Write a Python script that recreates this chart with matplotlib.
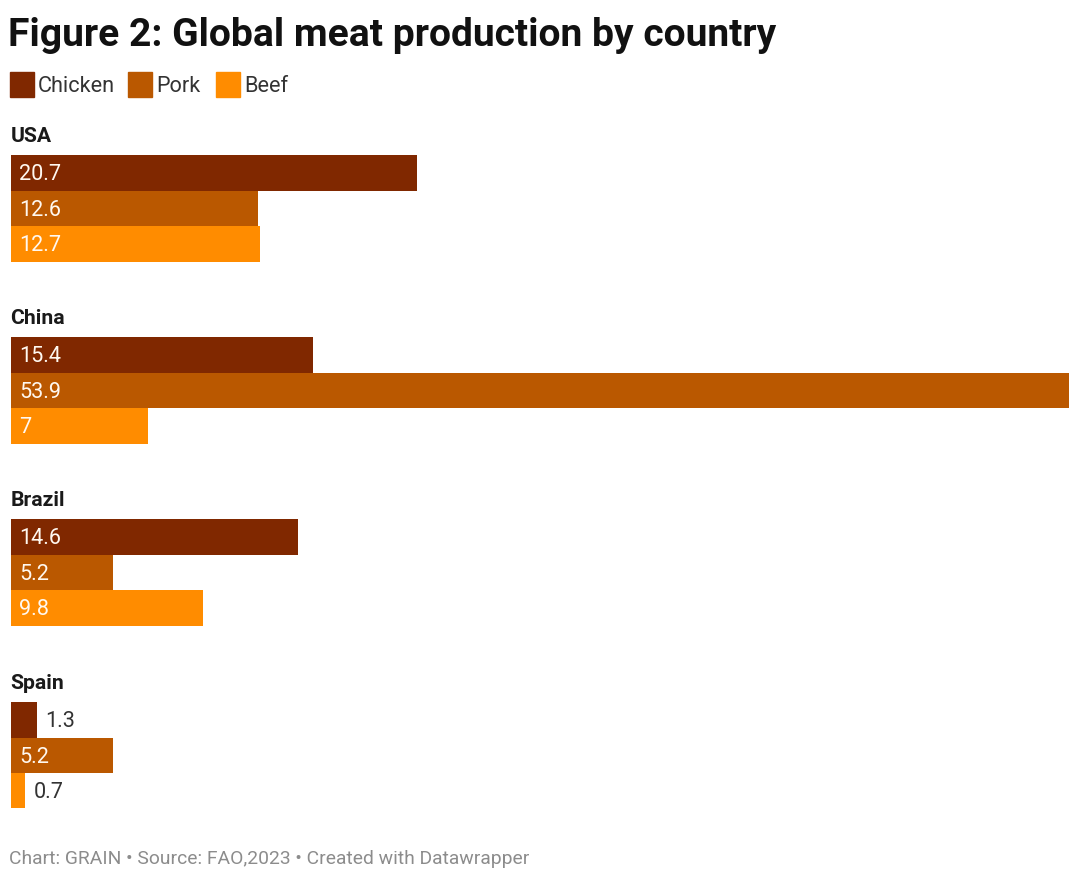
import matplotlib
matplotlib.use("Agg")
import matplotlib.pyplot as plt

countries = ["USA", "China", "Brazil", "Spain"]
series = ["Chicken", "Pork", "Beef"]
chicken = [20.7, 15.4, 14.6, 1.3]
pork = [12.6, 53.9, 5.2, 5.2]
beef = [12.7, 7.0, 9.8, 0.7]
labels = {"Chicken": ["20.7", "15.4", "14.6", "1.3"],
          "Pork": ["12.6", "53.9", "5.2", "5.2"],
          "Beef": ["12.7", "7", "9.8", "0.7"]}
colors = ["#802800", "#BA5800", "#FF8C00"]
title = "Figure 2: Global meat production by country"
footer = "Chart: GRAIN \u2022 Source: FAO,2023 \u2022 Created with Datawrapper"

plt.rcParams["font.family"] = ["Roboto", "DejaVu Sans"]

W, H = 1080, 878
fig = plt.figure(figsize=(W / 100, H / 100), dpi=100)
fig.patch.set_facecolor("white")

def fx(px):
    return px / W

def fy(py):
    return 1 - py / H

# Title
fig.text(fx(8.5), fy(46), title, fontsize=28.1, fontweight="bold", color="#111111",
         ha="left", va="baseline")

# Legend
leg_x = [10, 128, 216]
for i, name in enumerate(series):
    fig.patches.append(plt.Rectangle((fx(leg_x[i]), fy(98)), fx(24), 25 / H,
                                     transform=fig.transFigure, color=colors[i]))
    fig.text(fx(leg_x[i] + 28), fy(92), name, fontsize=15.6, color="#333333",
             ha="left", va="baseline")

ax = fig.add_axes([fx(11), 0, fx(1069 - 11), 1])
ax.set_xlim(0, 53.9)
ax.set_ylim(H, 0)
ax.axis("off")

values = [chicken, pork, beef]
group_top = [156, 338, 520, 703]
bar_h = 35.5
for g, c in enumerate(countries):
    ax.text(-0.03, group_top[g] - 13.5, c, fontsize=15.2, fontweight="bold", color="#1a1a1a",
            ha="left", va="baseline", transform=ax.transData)
    for s in range(3):
        v = values[s][g]
        yc = group_top[g] + bar_h * s + bar_h / 2
        ax.barh(yc, v, height=bar_h, left=0, color=colors[s], linewidth=0)
        lab = labels[series[s]][g]
        if v >= 3:
            ax.annotate(lab, (0, yc), xytext=(5.8, -0.8), textcoords="offset points",
                        fontsize=15.6, color="#FFF8F0", ha="left", va="center")
        else:
            ax.annotate(lab, (v, yc), xytext=(6.2, -0.8), textcoords="offset points",
                        fontsize=15.6, color="#333333", ha="left", va="center")

fig.text(fx(9), fy(864), footer, fontsize=13.9, color="#8c8c8c", ha="left", va="baseline")

fig.savefig("out.png", dpi=100)
